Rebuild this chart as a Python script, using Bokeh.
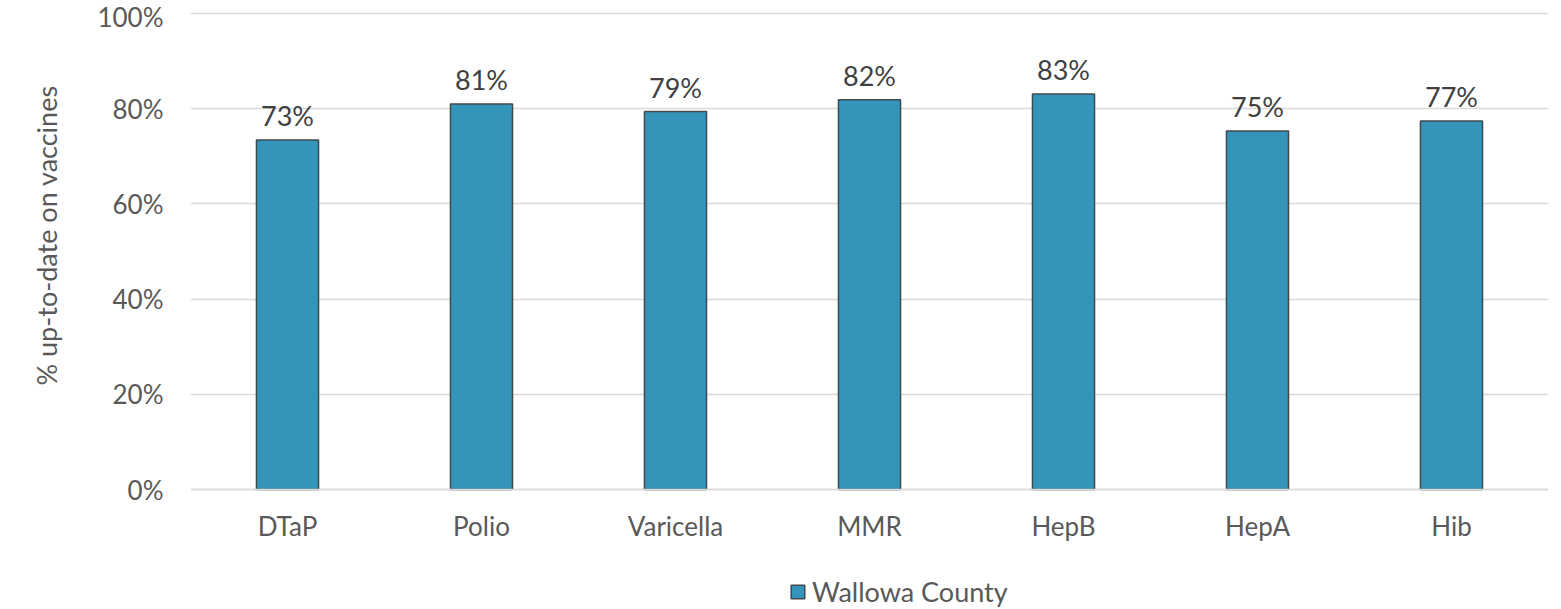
from bokeh.plotting import figure
from bokeh.models import (ColumnDataSource, LabelSet, Legend, LegendItem,
                          NumeralTickFormatter, FactorRange, Range1d, Title)
from bokeh.core.properties import value
from bokeh.embed import file_html
from bokeh.resources import INLINE

categories = ["DTaP", "Polio", "Varicella", "MMR", "HepB", "HepA", "Hib"]
values = [73.4, 81.0, 79.4, 81.9, 83.1, 75.3, 77.4]
series_name = "Wallowa County"
y_title = "% up-to-date on vaccines"
y_ticks = [0, 20, 40, 60, 80, 100]

FONT = "Lato"
src = ColumnDataSource(dict(
    cat=categories,
    val=[v / 100 for v in values],
    lab=[f"{round(v)}%" for v in values],
))

# frame: 0..100% spans 476px, a little room above, extra room below for labels + legend
TOP, ABOVE, PLOT_H, BELOW = 3, 10, 476, 120
frame_h = ABOVE + PLOT_H + BELOW
y_min = -BELOW / PLOT_H
y_max = 1 + ABOVE / PLOT_H

p = figure(x_range=FactorRange(*categories, range_padding=0), y_range=Range1d(y_min, y_max),
           frame_width=1358, frame_height=frame_h, output_backend="svg", toolbar_location=None,
           min_border_left=190, min_border_right=13, min_border_top=TOP, min_border_bottom=0)
p.outline_line_color = None

r = p.vbar(x="cat", top="val", width=0.32, source=src,
           fill_color="#3494BA", line_color="#404A4F", line_width=1.5)

labels = LabelSet(x="cat", y="val", text="lab", source=src, text_align="center",
                  text_baseline="bottom", y_offset=8, text_font=value(FONT),
                  text_font_size="27px", text_color="#404040")
p.add_layout(labels)

p.yaxis.ticker = [t / 100 for t in y_ticks]
p.yaxis.formatter = NumeralTickFormatter(format="0%")
p.yaxis.axis_line_color = None
p.yaxis.major_tick_line_color = None
p.yaxis.minor_tick_line_color = None
p.yaxis.major_label_text_font = FONT
p.yaxis.major_label_text_font_size = "26px"
p.yaxis.major_label_text_color = "#595959"
p.yaxis.major_label_standoff = 21

ytitle = Title(text=y_title, align="left", offset=BELOW + 104, standoff=59,
               vertical_align="top",
               text_font=FONT, text_font_size="27px", text_font_style="normal",
               text_color="#595959")
p.add_layout(ytitle, "left")

p.xaxis.fixed_location = 0
p.xaxis.axis_line_color = "#D9D9D9"
p.xaxis.axis_line_width = 1.5
p.xaxis.major_tick_line_color = None
p.xaxis.minor_tick_line_color = None
p.xaxis.major_label_text_font = FONT
p.xaxis.major_label_text_font_size = "26px"
p.xaxis.major_label_text_color = "#595959"
p.xaxis.major_label_standoff = 14

p.xgrid.grid_line_color = None
p.ygrid.grid_line_color = "#D9D9D9"
p.ygrid.grid_line_width = 1.5

legend = Legend(items=[LegendItem(label=series_name, renderers=[r])],
                location=(599, 1), orientation="horizontal",
                label_text_font=FONT, label_text_font_size="27px",
                label_text_color="#595959", glyph_width=17, glyph_height=17,
                border_line_color=None, background_fill_alpha=0,
                label_standoff=6, margin=0, padding=0)
p.add_layout(legend, "center")

open("out.html", "w").write(file_html(p, INLINE))
